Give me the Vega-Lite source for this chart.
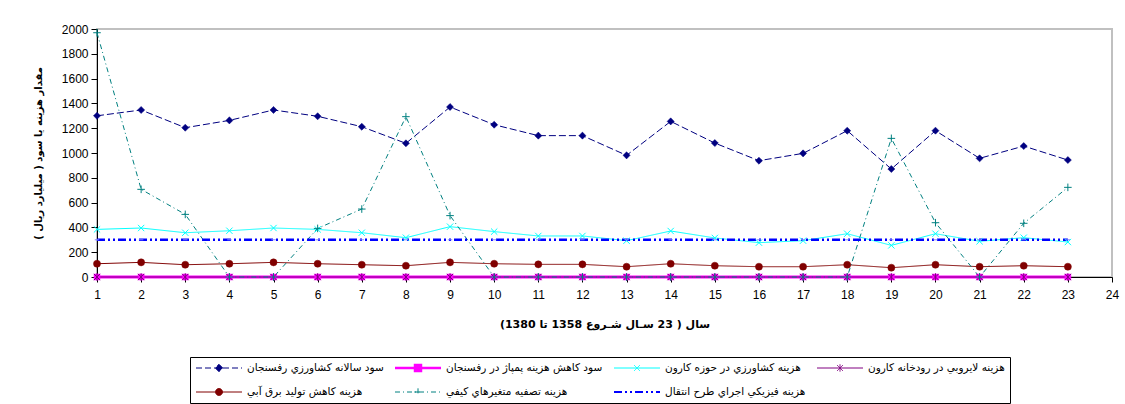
{
  "$schema": "https://vega.github.io/schema/vega-lite/v6.json",
  "width": 1015,
  "height": 248,
  "autosize": {"type": "none"},
  "padding": {"left": 97, "top": 29, "right": 13, "bottom": 127},
  "background": "white",
  "config": {
    "view": {"stroke": "#c0c0c0", "strokeWidth": 2},
    "font": "Liberation Sans"
  },
  "data": {
    "values": [
      {"year": 1, "سود سالانه کشاورزي رفسنجان": 1300, "سود کاهش هزينه پمپاژ در رفسنجان": 0, "هزينه کشاورزي در حوزه کارون": 384, "هزينه لايروبي در رودخانه کارون": 0, "هزينه کاهش توليد برق آبي": 107, "هزينه تصفيه متغيرهاي کيفي": 1970, "هزينه فيزيکي اجراي طرح انتقال": 300},
      {"year": 2, "سود سالانه کشاورزي رفسنجان": 1347, "سود کاهش هزينه پمپاژ در رفسنجان": 0, "هزينه کشاورزي در حوزه کارون": 395, "هزينه لايروبي در رودخانه کارون": 0, "هزينه کاهش توليد برق آبي": 118, "هزينه تصفيه متغيرهاي کيفي": 707, "هزينه فيزيکي اجراي طرح انتقال": 300},
      {"year": 3, "سود سالانه کشاورزي رفسنجان": 1204, "سود کاهش هزينه پمپاژ در رفسنجان": 0, "هزينه کشاورزي در حوزه کارون": 357, "هزينه لايروبي در رودخانه کارون": 0, "هزينه کاهش توليد برق آبي": 99, "هزينه تصفيه متغيرهاي کيفي": 505, "هزينه فيزيکي اجراي طرح انتقال": 300},
      {"year": 4, "سود سالانه کشاورزي رفسنجان": 1263, "سود کاهش هزينه پمپاژ در رفسنجان": 0, "هزينه کشاورزي در حوزه کارون": 373, "هزينه لايروبي در رودخانه کارون": 0, "هزينه کاهش توليد برق آبي": 107, "هزينه تصفيه متغيرهاي کيفي": 0, "هزينه فيزيکي اجراي طرح انتقال": 300},
      {"year": 5, "سود سالانه کشاورزي رفسنجان": 1347, "سود کاهش هزينه پمپاژ در رفسنجان": 0, "هزينه کشاورزي در حوزه کارون": 395, "هزينه لايروبي در رودخانه کارون": 0, "هزينه کاهش توليد برق آبي": 118, "هزينه تصفيه متغيرهاي کيفي": 0, "هزينه فيزيکي اجراي طرح انتقال": 300},
      {"year": 6, "سود سالانه کشاورزي رفسنجان": 1296, "سود کاهش هزينه پمپاژ در رفسنجان": 0, "هزينه کشاورزي در حوزه کارون": 384, "هزينه لايروبي در رودخانه کارون": 0, "هزينه کاهش توليد برق آبي": 107, "هزينه تصفيه متغيرهاي کيفي": 392, "هزينه فيزيکي اجراي طرح انتقال": 300},
      {"year": 7, "سود سالانه کشاورزي رفسنجان": 1212, "سود کاهش هزينه پمپاژ در رفسنجان": 0, "هزينه کشاورزي در حوزه کارون": 357, "هزينه لايروبي در رودخانه کارون": 0, "هزينه کاهش توليد برق آبي": 99, "هزينه تصفيه متغيرهاي کيفي": 548, "هزينه فيزيکي اجراي طرح انتقال": 300},
      {"year": 8, "سود سالانه کشاورزي رفسنجان": 1078, "سود کاهش هزينه پمپاژ در رفسنجان": 0, "هزينه کشاورزي در حوزه کارون": 317, "هزينه لايروبي در رودخانه کارون": 0, "هزينه کاهش توليد برق آبي": 91, "هزينه تصفيه متغيرهاي کيفي": 1293, "هزينه فيزيکي اجراي طرح انتقال": 300},
      {"year": 9, "سود سالانه کشاورزي رفسنجان": 1371, "سود کاهش هزينه پمپاژ در رفسنجان": 0, "هزينه کشاورزي در حوزه کارون": 406, "هزينه لايروبي در رودخانه کارون": 0, "هزينه کاهش توليد برق آبي": 118, "هزينه تصفيه متغيرهاي کيفي": 495, "هزينه فيزيکي اجراي طرح انتقال": 300},
      {"year": 10, "سود سالانه کشاورزي رفسنجان": 1228, "سود کاهش هزينه پمپاژ در رفسنجان": 0, "هزينه کشاورزي در حوزه کارون": 366, "هزينه لايروبي در رودخانه کارون": 0, "هزينه کاهش توليد برق آبي": 107, "هزينه تصفيه متغيرهاي کيفي": 0, "هزينه فيزيکي اجراي طرح انتقال": 300},
      {"year": 11, "سود سالانه کشاورزي رفسنجان": 1140, "سود کاهش هزينه پمپاژ در رفسنجان": 0, "هزينه کشاورزي در حوزه کارون": 331, "هزينه لايروبي در رودخانه کارون": 0, "هزينه کاهش توليد برق آبي": 102, "هزينه تصفيه متغيرهاي کيفي": 0, "هزينه فيزيکي اجراي طرح انتقال": 300},
      {"year": 12, "سود سالانه کشاورزي رفسنجان": 1140, "سود کاهش هزينه پمپاژ در رفسنجان": 0, "هزينه کشاورزي در حوزه کارون": 331, "هزينه لايروبي در رودخانه کارون": 0, "هزينه کاهش توليد برق آبي": 102, "هزينه تصفيه متغيرهاي کيفي": 0, "هزينه فيزيکي اجراي طرح انتقال": 300},
      {"year": 13, "سود سالانه کشاورزي رفسنجان": 981, "سود کاهش هزينه پمپاژ در رفسنجان": 0, "هزينه کشاورزي در حوزه کارون": 293, "هزينه لايروبي در رودخانه کارون": 0, "هزينه کاهش توليد برق آبي": 83, "هزينه تصفيه متغيرهاي کيفي": 0, "هزينه فيزيکي اجراي طرح انتقال": 300},
      {"year": 14, "سود سالانه کشاورزي رفسنجان": 1255, "سود کاهش هزينه پمپاژ در رفسنجان": 0, "هزينه کشاورزي در حوزه کارون": 371, "هزينه لايروبي در رودخانه کارون": 0, "هزينه کاهش توليد برق آبي": 107, "هزينه تصفيه متغيرهاي کيفي": 0, "هزينه فيزيکي اجراي طرح انتقال": 300},
      {"year": 15, "سود سالانه کشاورزي رفسنجان": 1080, "سود کاهش هزينه پمپاژ در رفسنجان": 0, "هزينه کشاورزي در حوزه کارون": 315, "هزينه لايروبي در رودخانه کارون": 0, "هزينه کاهش توليد برق آبي": 91, "هزينه تصفيه متغيرهاي کيفي": 0, "هزينه فيزيکي اجراي طرح انتقال": 300},
      {"year": 16, "سود سالانه کشاورزي رفسنجان": 938, "سود کاهش هزينه پمپاژ در رفسنجان": 0, "هزينه کشاورزي در حوزه کارون": 277, "هزينه لايروبي در رودخانه کارون": 0, "هزينه کاهش توليد برق آبي": 83, "هزينه تصفيه متغيرهاي کيفي": 0, "هزينه فيزيکي اجراي طرح انتقال": 300},
      {"year": 17, "سود سالانه کشاورزي رفسنجان": 997, "سود کاهش هزينه پمپاژ در رفسنجان": 0, "هزينه کشاورزي در حوزه کارون": 293, "هزينه لايروبي در رودخانه کارون": 0, "هزينه کاهش توليد برق آبي": 83, "هزينه تصفيه متغيرهاي کيفي": 0, "هزينه فيزيکي اجراي طرح انتقال": 300},
      {"year": 18, "سود سالانه کشاورزي رفسنجان": 1180, "سود کاهش هزينه پمپاژ در رفسنجان": 0, "هزينه کشاورزي در حوزه کارون": 349, "هزينه لايروبي در رودخانه کارون": 0, "هزينه کاهش توليد برق آبي": 99, "هزينه تصفيه متغيرهاي کيفي": 0, "هزينه فيزيکي اجراي طرح انتقال": 300},
      {"year": 19, "سود سالانه کشاورزي رفسنجان": 871, "سود کاهش هزينه پمپاژ در رفسنجان": 0, "هزينه کشاورزي در حوزه کارون": 255, "هزينه لايروبي در رودخانه کارون": 0, "هزينه کاهش توليد برق آبي": 75, "هزينه تصفيه متغيرهاي کيفي": 1118, "هزينه فيزيکي اجراي طرح انتقال": 300},
      {"year": 20, "سود سالانه کشاورزي رفسنجان": 1180, "سود کاهش هزينه پمپاژ در رفسنجان": 0, "هزينه کشاورزي در حوزه کارون": 349, "هزينه لايروبي در رودخانه کارون": 0, "هزينه کاهش توليد برق آبي": 99, "هزينه تصفيه متغيرهاي کيفي": 438, "هزينه فيزيکي اجراي طرح انتقال": 300},
      {"year": 21, "سود سالانه کشاورزي رفسنجان": 957, "سود کاهش هزينه پمپاژ در رفسنجان": 0, "هزينه کشاورزي در حوزه کارون": 288, "هزينه لايروبي در رودخانه کارون": 0, "هزينه کاهش توليد برق آبي": 83, "هزينه تصفيه متغيرهاي کيفي": 0, "هزينه فيزيکي اجراي طرح انتقال": 300},
      {"year": 22, "سود سالانه کشاورزي رفسنجان": 1056, "سود کاهش هزينه پمپاژ در رفسنجان": 0, "هزينه کشاورزي در حوزه کارون": 317, "هزينه لايروبي در رودخانه کارون": 0, "هزينه کاهش توليد برق آبي": 91, "هزينه تصفيه متغيرهاي کيفي": 433, "هزينه فيزيکي اجراي طرح انتقال": 300},
      {"year": 23, "سود سالانه کشاورزي رفسنجان": 943, "سود کاهش هزينه پمپاژ در رفسنجان": 0, "هزينه کشاورزي در حوزه کارون": 282, "هزينه لايروبي در رودخانه کارون": 0, "هزينه کاهش توليد برق آبي": 83, "هزينه تصفيه متغيرهاي کيفي": 723, "هزينه فيزيکي اجراي طرح انتقال": 300}
    ]
  },
  "transform": [
    {"fold": ["سود سالانه کشاورزي رفسنجان", "سود کاهش هزينه پمپاژ در رفسنجان", "هزينه کشاورزي در حوزه کارون", "هزينه لايروبي در رودخانه کارون", "هزينه کاهش توليد برق آبي", "هزينه تصفيه متغيرهاي کيفي", "هزينه فيزيکي اجراي طرح انتقال"], "as": ["series", "value"]}
  ],
  "encoding": {
    "x": {
      "field": "year", "type": "quantitative",
      "scale": {"domain": [1, 24], "nice": false, "zero": false},
      "axis": {
        "values": [1, 2, 3, 4, 5, 6, 7, 8, 9, 10, 11, 12, 13, 14, 15, 16, 17, 18, 19, 20, 21, 22, 23, 24],
        "format": "d",
        "title": "\u200fسال ( 23 سـال شـروع 1358 تا 1380)\u200f",
        "titleFont": "DejaVu Sans", "titleFontSize": 11, "titleFontWeight": "bold", "titleColor": "#000", "titlePadding": 18,
        "labelFont": "Liberation Sans", "labelFontSize": 12, "labelColor": "#000", "labelPadding": 7,
        "labelFlush": false, "labelOverlap": false, "labelAngle": 0,
        "tickSize": 5, "tickColor": "#000", "domainColor": "#000", "grid": false
      }
    },
    "y": {
      "field": "value", "type": "quantitative",
      "scale": {"domain": [0, 2000], "nice": false},
      "axis": {
        "values": [0, 200, 400, 600, 800, 1000, 1200, 1400, 1600, 1800, 2000],
        "format": "d",
        "title": "\u200fمقدار هزينه يا سود ( ميليارد ريال )\u200f",
        "titleFont": "DejaVu Sans", "titleFontSize": 10, "titleFontWeight": "bold", "titleColor": "#000", "titlePadding": 18,
        "labelFont": "Liberation Sans", "labelFontSize": 12, "labelColor": "#000", "labelPadding": 3,
        "labelFlush": false, "labelOverlap": false,
        "tickSize": 6, "tickColor": "#000", "domainColor": "#000", "grid": false
      }
    },
    "color": {
      "field": "series", "type": "nominal",
      "scale": {
        "domain": ["سود سالانه کشاورزي رفسنجان", "سود کاهش هزينه پمپاژ در رفسنجان", "هزينه کشاورزي در حوزه کارون", "هزينه لايروبي در رودخانه کارون", "هزينه کاهش توليد برق آبي", "هزينه تصفيه متغيرهاي کيفي", "هزينه فيزيکي اجراي طرح انتقال"],
        "range": ["#000080", "#FF00FF", "#00FFFF", "#800080", "#800000", "#008080", "#0000FF"]
      },
      "legend": {
        "title": null, "orient": "none", "legendX": 93, "legendY": 328, "direction": "horizontal",
        "columns": 4, "columnPadding": 10, "rowPadding": 12, "padding": 5,
        "strokeColor": "#000000", "fillColor": "#ffffff",
        "labelFont": "DejaVu Sans", "labelFontSize": 10.5, "labelColor": "#000", "labelLimit": 400,
        "symbolStrokeWidth": 1, "symbolType": "stroke", "clipHeight": 12,
        "encode": {
          "symbols": {
            "update": {
              "shape": {"signal": "['M-1,0H1M0,-0.16L0.16,0L0,0.16L-0.16,0Z', 'M-1,0H1M-0.13,-0.13H0.13V0.13H-0.13Z', 'M-1,0H1M-0.13,-0.13L0.13,0.13M-0.13,0.13L0.13,-0.13', 'M-1,0H1M-0.13,-0.13L0.13,0.13M-0.13,0.13L0.13,-0.13M0,-0.16V0.16', 'M-1,0H1M0.15,0A0.15,0.15 0 1,1 -0.15,0A0.15,0.15 0 1,1 0.15,0Z', 'M-1,0H1M-0.16,0H0.16M0,-0.16V0.16', 'M-1,0H1'][indexof(domain('color'), datum.value)]"},
              "size": {"value": 2116},
              "x": {"value": 24},
              "strokeDash": {"signal": "[[6,3],[1,0],[1,0],[1,0],[1,0],[5,3,1,3],[8,3,2,3,2,3]][indexof(domain('color'), datum.value)]"},
              "strokeWidth": {"signal": "[1,2.5,1,1,1,1,2][indexof(domain('color'), datum.value)]"},
              "fill": {"scale": "color", "field": "value"},
              "stroke": {"scale": "color", "field": "value"},
              "opacity": {"value": 1}
            }
          },
          "labels": {
            "update": {
              "x": {"value": 52}
            }
          }
        }
      }
    }
  },
  "layer": [
    {
      "transform": [{"filter": {"field": "series", "equal": "سود کاهش هزينه پمپاژ در رفسنجان"}}],
      "mark": {"type": "line", "strokeWidth": 3}
    },
    {
      "transform": [{"filter": {"field": "series", "oneOf": ["سود سالانه کشاورزي رفسنجان", "هزينه کشاورزي در حوزه کارون", "هزينه لايروبي در رودخانه کارون", "هزينه کاهش توليد برق آبي", "هزينه تصفيه متغيرهاي کيفي"]}}],
      "mark": {"type": "line", "strokeWidth": 1},
      "encoding": {
        "strokeDash": {
          "field": "series", "type": "nominal",
          "scale": {
            "domain": ["سود سالانه کشاورزي رفسنجان", "هزينه کشاورزي در حوزه کارون", "هزينه لايروبي در رودخانه کارون", "هزينه کاهش توليد برق آبي", "هزينه تصفيه متغيرهاي کيفي"],
            "range": [[7, 3], [1, 0], [1, 0], [1, 0], [5, 3, 1, 3]]
          },
          "legend": null
        }
      }
    },
    {
      "transform": [{"filter": {"field": "series", "equal": "هزينه فيزيکي اجراي طرح انتقال"}}],
      "mark": {"type": "line", "strokeWidth": 2.5, "strokeDash": [8, 3, 2, 3, 2, 3]}
    },
    {
      "transform": [{"filter": {"field": "series", "equal": "سود سالانه کشاورزي رفسنجان"}}],
      "mark": {"type": "point", "shape": "diamond", "filled": true, "size": 50, "opacity": 1, "stroke": "#000080", "strokeWidth": 0.5},
      "encoding": {"color": {"field": "series", "type": "nominal", "legend": null}}
    },
    {
      "transform": [{"filter": {"field": "series", "equal": "سود کاهش هزينه پمپاژ در رفسنجان"}}],
      "mark": {"type": "point", "shape": "square", "filled": true, "size": 36, "opacity": 1, "stroke": "#FF00FF", "strokeWidth": 0.5},
      "encoding": {"color": {"field": "series", "type": "nominal", "legend": null}}
    },
    {
      "transform": [{"filter": {"field": "series", "equal": "هزينه کشاورزي در حوزه کارون"}}],
      "mark": {"type": "point", "shape": "M-1,-1L1,1M-1,1L1,-1", "filled": false, "size": 40, "opacity": 1, "stroke": "#00FFFF", "strokeWidth": 1}
    },
    {
      "transform": [{"filter": {"field": "series", "equal": "هزينه لايروبي در رودخانه کارون"}}],
      "mark": {"type": "point", "shape": "M-1,-1L1,1M-1,1L1,-1M0,-1.2V1.2", "filled": false, "size": 40, "opacity": 1, "stroke": "#800080", "strokeWidth": 1}
    },
    {
      "transform": [{"filter": {"field": "series", "equal": "هزينه کاهش توليد برق آبي"}}],
      "mark": {"type": "point", "shape": "circle", "filled": true, "size": 50, "opacity": 1, "stroke": "#800000", "strokeWidth": 0.5},
      "encoding": {"color": {"field": "series", "type": "nominal", "legend": null}}
    },
    {
      "transform": [{"filter": {"field": "series", "equal": "هزينه تصفيه متغيرهاي کيفي"}}],
      "mark": {"type": "point", "shape": "M-1.2,0H1.2M0,-1.2V1.2", "filled": false, "size": 40, "opacity": 1, "stroke": "#008080", "strokeWidth": 1}
    },
    {
      "transform": [{"filter": {"field": "series", "equal": "هزينه فيزيکي اجراي طرح انتقال"}}],
      "mark": {"type": "point", "shape": "M-0.7,0H0.7", "filled": false, "size": 40, "opacity": 1, "stroke": "#8080FF", "strokeWidth": 1}
    }
  ]
}
